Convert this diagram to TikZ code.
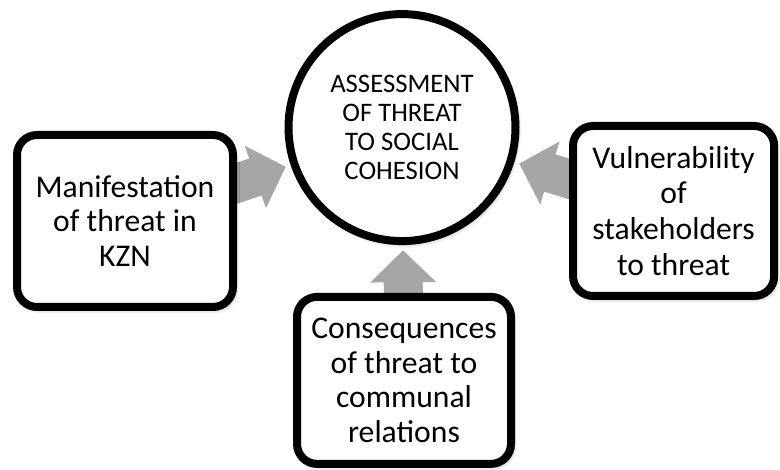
\documentclass[tikz,border=0pt]{standalone}
\usepackage{fontspec}
\setmainfont{Carlito}
\usepackage{tikz}
\usetikzlibrary{arrows.meta, backgrounds, shadows.blur}

\definecolor{arrowgray}{RGB}{166,166,166}

\begin{document}
\begin{tikzpicture}[
  soft/.style={blur shadow={shadow xshift=1.5pt, shadow yshift=-2pt, shadow blur radius=3pt, shadow opacity=35}},
  hub/.style={circle, draw, line width=0.2cm, fill=white, inner sep=0pt, minimum size=5.675cm,
    align=center, font=\fontsize{19}{20.5}\selectfont, soft},
  box/.style={draw, line width=0.2cm, rounded corners=0.5cm, fill=white, align=center,
    font=\fontsize{22.5}{24.5}\selectfont, soft},
  feed/.style={line width=0.975cm, draw=arrowgray, -{Triangle[length=0.8cm, width=1.6cm]}, shorten >=0.13cm}
]
\useasboundingbox (0,0) rectangle (19.5,11.75);
\node [hub] (assess) at (10.05,8.56) {ASSESSMENT\\OF THREAT\\TO SOCIAL\\COHESION};
\node [box, minimum width=5.4cm, minimum height=4.3cm] (kzn) at (3.125,6.225) {Manifestation\\of threat in\\KZN};
\node [box, minimum width=5.03cm, minimum height=4.25cm, font=\fontsize{22.5}{25.5}\selectfont] (vuln) at (16.84,6.475) {Vulnerability\\of\\stakeholders\\to threat};
\node [box, minimum width=5.35cm, minimum height=4.175cm] (cons) at (10.1,2.24) {Consequences\\of threat to\\communal\\relations};
% block arrows sit behind the boxes
\begin{scope}[on background layer]
\draw [feed] (kzn.center) -- (assess);
\draw [feed] (vuln.center) -- (assess);
\draw [feed] (cons.center) -- (assess);
\end{scope}
\end{tikzpicture}
\end{document}
